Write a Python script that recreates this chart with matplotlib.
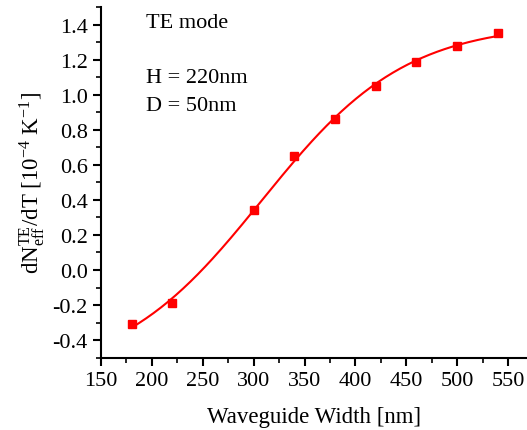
import numpy as np
import matplotlib
matplotlib.use("Agg")
import matplotlib.pyplot as plt
from matplotlib.ticker import MultipleLocator

# data
width_nm = [180, 220, 300, 340, 380, 420, 460, 500, 540]
dn_dt = [-0.31, -0.19, 0.34, 0.65, 0.86, 1.05, 1.19, 1.28, 1.35]

plt.rcParams['font.family'] = ['Liberation Serif', 'DejaVu Serif']
plt.rcParams['mathtext.fontset'] = 'custom'
plt.rcParams['mathtext.rm'] = 'Liberation Serif'
plt.rcParams['mathtext.it'] = 'Liberation Serif'


def boltzmann_fit(x, y):
    # sigmoid fit: grid over centre/width, linear least squares for the plateaus
    x = np.asarray(x, float)
    y = np.asarray(y, float)
    best = None
    for x0 in np.arange(250, 400, 1.0):
        for dx in np.arange(30, 150, 1.0):
            s = 1.0 / (1.0 + np.exp((x - x0) / dx))
            M = np.column_stack([s, 1 - s])
            p, *_ = np.linalg.lstsq(M, y, rcond=None)
            err = np.sum((M @ p - y) ** 2)
            if best is None or err < best[0]:
                best = (err, x0, dx, p)
    _, x0, dx, p = best
    return lambda t: p[0] / (1 + np.exp((t - x0) / dx)) + p[1] * (1 - 1 / (1 + np.exp((t - x0) / dx)))


fig = plt.figure(figsize=(5.27, 4.31), dpi=100)
ax = fig.add_axes([0.1917, 0.168, 0.8083, 0.813])

fit = boltzmann_fit(width_nm, dn_dt)
xf = np.linspace(min(width_nm), max(width_nm), 200)
ax.plot(xf, fit(xf), color='#ff0000', lw=1.5)
ax.plot(width_nm, dn_dt, 's', color='#ff0000', ms=6, mec='#ff0000')

ax.set_xlim(150, 568.7)
ax.set_ylim(-0.5, 1.5)
ax.set_xticks(np.arange(150, 551, 50))
ax.xaxis.set_minor_locator(MultipleLocator(25))
ax.yaxis.set_minor_locator(MultipleLocator(0.1))
yt = np.arange(-0.4, 1.41, 0.2)
ax.set_yticks(yt)
ax.set_yticklabels(['%.1f' % v for v in yt])

for s in ['top', 'right']:
    ax.spines[s].set_visible(False)
for s in ['left', 'bottom']:
    ax.spines[s].set_linewidth(1.5)
ax.tick_params(which='major', direction='out', length=6, width=1.5, labelsize=16)
ax.tick_params(which='minor', direction='out', length=3.5, width=1.2)

ax.set_xlabel('Waveguide Width [nm]', fontsize=16.5, labelpad=12)
ax.set_ylabel(r'dN$_{\rm eff}^{\rm TE}$/dT [10$^{-4}$ K$^{-1}$]', fontsize=16.5, labelpad=4)

ax.text(194, 1.415, 'TE mode', fontsize=16, va='center')
ax.text(194, 1.096, 'H = 220nm', fontsize=16, va='center')
ax.text(194, 0.937, 'D = 50nm', fontsize=16, va='center')

fig.savefig('out.png', dpi=100)
